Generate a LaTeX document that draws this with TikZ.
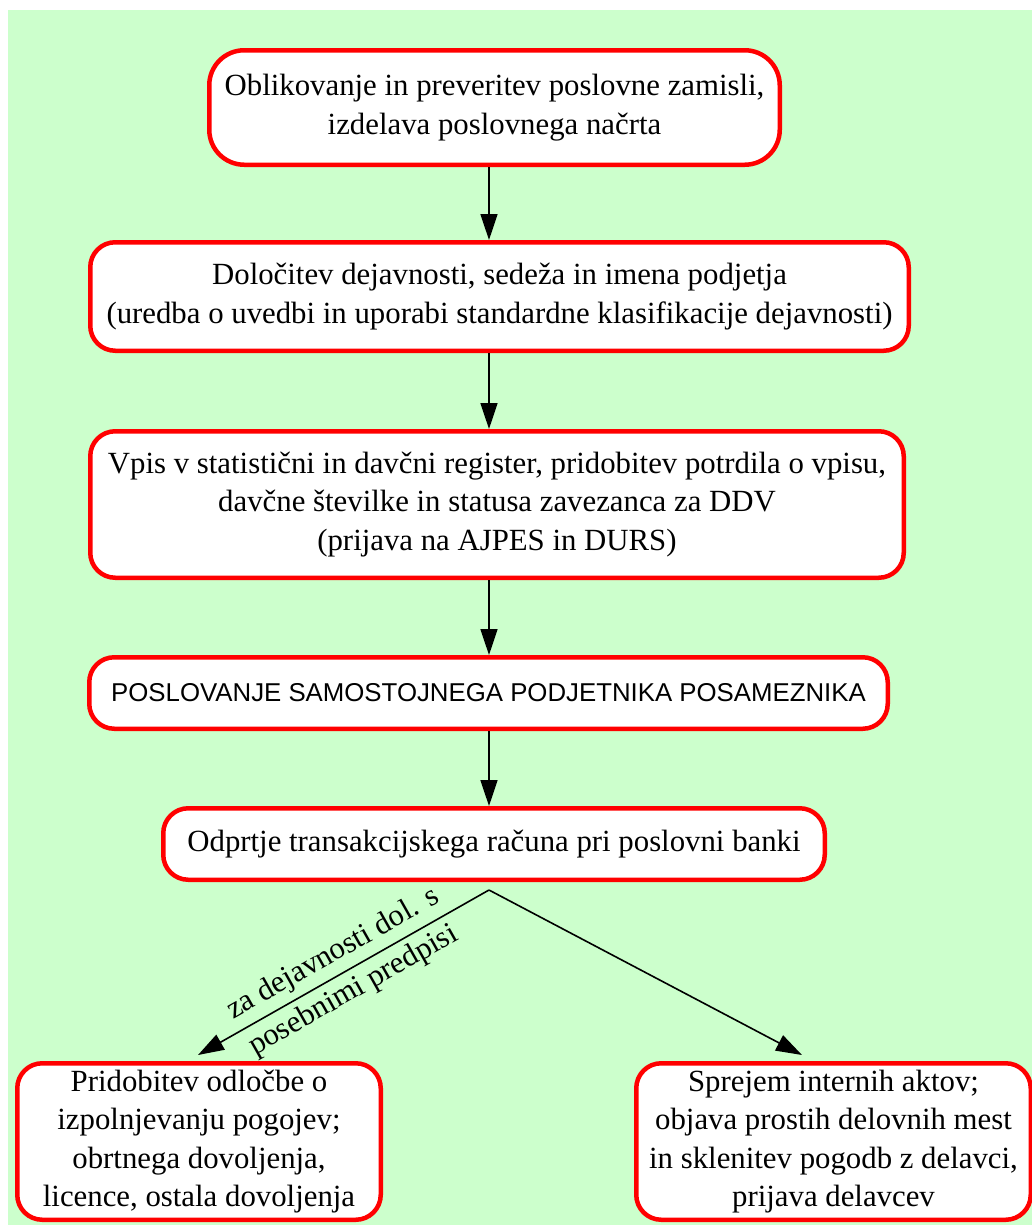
\documentclass[tikz,border=0pt]{standalone}
\usepackage{fontspec}
\setmainfont{Liberation Serif}
\newfontfamily\arialf{Liberation Sans}
\usetikzlibrary{arrows.meta}
\definecolor{bgG}{HTML}{CCFFCC}
\definecolor{boxR}{HTML}{FF0000}
\begin{document}
\begin{tikzpicture}[x=1pt,y=-1pt,
  stepbox/.style={draw=boxR, line width=4.5pt, fill=white, rounded corners=25pt,
    align=center, inner sep=0pt, font=\fontsize{30.8}{38.5}\selectfont},
  arr/.style={draw=black, line width=1.6pt, -{Triangle[length=26pt,width=17pt]}},
  lbl/.style={align=center, inner sep=0pt, font=\fontsize{30.8}{42}\selectfont}]
\useasboundingbox (0,0) rectangle (1032,1227);
\fill[bgG] (8,10) rectangle (1032,1225);

\node[stepbox, rounded corners=35pt, minimum width=570.5pt, minimum height=114.5pt] (b1) at (494.5,107.5)
  {Oblikovanje in preveritev poslovne zamisli,\\izdelava poslovnega načrta};
\node[stepbox, minimum width=818.5pt, minimum height=108.5pt] (b2) at (499.5,296.5)
  {Določitev dejavnosti, sedeža in imena podjetja\\(uredba o uvedbi in uporabi standardne klasifikacije dejavnosti)};
\node[stepbox, minimum width=813.5pt, minimum height=146.5pt] (b3) at (497,504.5)
  {Vpis v statistični in davčni register, pridobitev potrdila o vpisu,\\davčne številke in statusa zavezanca za DDV\\(prijava na AJPES in DURS)};
\node[stepbox, font=\arialf\fontsize{25.8}{30}\selectfont, minimum width=798.5pt, minimum height=71.5pt] (b4) at (488.5,693)
  {POSLOVANJE SAMOSTOJNEGA PODJETNIKA POSAMEZNIKA};
\node[stepbox, minimum width=661.5pt, minimum height=71.5pt] (b5) at (494,844)
  {Odprtje transakcijskega računa pri poslovni banki};
\node[stepbox, minimum width=363.5pt, minimum height=156.5pt] (b6) at (199,1141.5)
  {Pridobitev odločbe o\\izpolnjevanju pogojev;\\obrtnega dovoljenja,\\licence, ostala dovoljenja};
\node[stepbox, minimum width=394.5pt, minimum height=156.5pt] (b7) at (833.5,1141.5)
  {Sprejem internih aktov;\\objava prostih delovnih mest\\in sklenitev pogodb z delavci,\\prijava delavcev};

\coordinate (ax) at (489,0);
\draw[arr] (b1.south -| ax) -- (b2.north -| ax);
\draw[arr] (b2.south -| ax) -- (b3.north -| ax);
\draw[arr] (b3.south -| ax) -- (b4.north -| ax);
\draw[arr] (b4.south -| ax) -- (b5.north -| ax);

\coordinate (split) at ([yshift=-8pt]b5.south -| ax);
\coordinate (tipL) at ([yshift=6pt]b6.north -| 198,0);
\coordinate (tipR) at ([yshift=6pt]b7.north -| 802,0);
\draw[arr] (split) -- (tipL);
\draw[arr] (split) -- (tipR);
\path (split) -- node[lbl, rotate=29.55] {za dejavnosti dol. s\\posebnimi predpisi} (tipL);
\end{tikzpicture}
\end{document}
